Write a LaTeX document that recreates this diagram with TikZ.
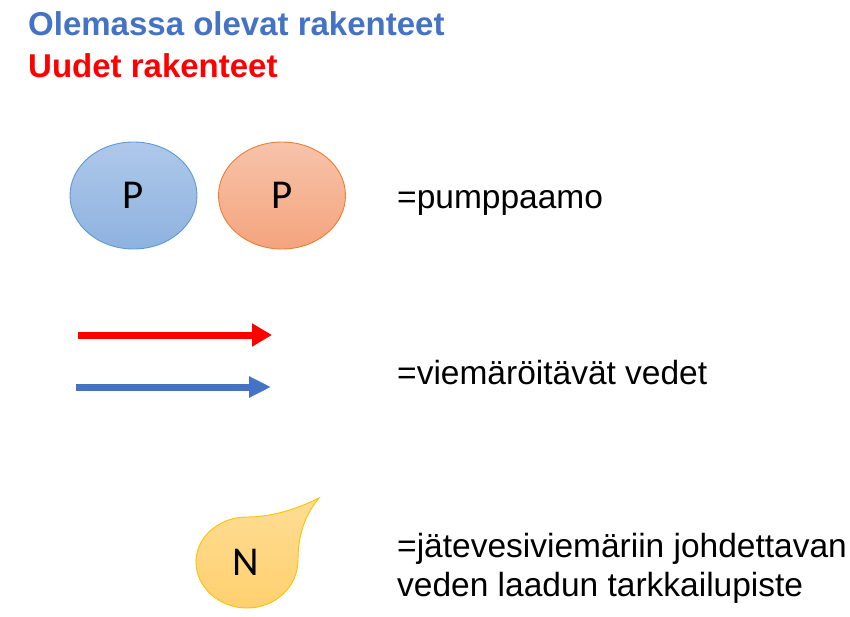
\documentclass[tikz,border=0pt]{standalone}
\usepackage{fontspec}
\setmainfont{Liberation Sans}
\newfontfamily\calib{Carlito}
\usetikzlibrary{shapes.geometric,arrows.meta}
\definecolor{oblue}{HTML}{4472C4}
\definecolor{nred}{HTML}{FF0000}
\definecolor{bluetop}{HTML}{AEC8EA}
\definecolor{bluebot}{HTML}{8EB2DF}
\definecolor{bluedraw}{HTML}{5B9BD5}
\definecolor{orgtop}{HTML}{F7C3AA}
\definecolor{orgbot}{HTML}{F4A47D}
\definecolor{orgdraw}{HTML}{ED7D31}
\definecolor{goldtop}{HTML}{FFDD95}
\definecolor{goldbot}{HTML}{FFD06E}
\definecolor{golddraw}{HTML}{FFC000}
\tikzset{
  title/.style={anchor=base west, inner sep=0pt, font=\fontsize{33}{40}\selectfont\bfseries},
  legtext/.style={anchor=base west, inner sep=0pt, align=left, font=\fontsize{33.5}{40}\selectfont},
  pump/.style={ellipse, minimum width=127pt, minimum height=107pt, inner sep=0pt, line width=0.9pt, font=\calib\fontsize{41}{48}\selectfont},
  flow/.style={line width=7pt},
}
\begin{document}
\begin{tikzpicture}[x=1pt,y=-1pt]
\useasboundingbox (0,0) rectangle (850,617);
\node[title, text=oblue] (t1) at (28,36) {Olemassa olevat rakenteet};
\node[title, text=nred] (t2) at (28,78) {Uudet rakenteet};
% pumps
\node[pump, draw=bluedraw, top color=bluetop, bottom color=bluebot] (pb) at (133.5,195.5) {P};
\node[pump, draw=orgdraw, top color=orgtop, bottom color=orgbot] (po) at (282,195.5) {P};
\node[legtext] (l1) at (397,209) {=pumppaamo};
% arrows
\coordinate (ra) at (78,335);
\coordinate (rb) at (272,335);
\coordinate (ba) at (76,387);
\coordinate (bb) at (271,387);
\draw[flow, draw=nred, -{Triangle[length=20pt,width=22pt]}] (ra) -- (rb);
\draw[flow, draw=oblue, -{Triangle[length=22pt,width=20pt]}] (ba) -- (bb);
\node[legtext] (l2) at (397,384) {=viemäröitävät vedet};
% drop
\path[draw=golddraw, line width=0.9pt, top color=goldtop, bottom color=goldbot]
  (319,498) .. controls (295,510) and (270,517) .. (247,517)
  .. controls (219,517) and (196,537) .. (196,562)
  .. controls (196,587) and (219,608) .. (247,608)
  .. controls (275,608) and (298,587) .. (298,560)
  .. controls (298,535) and (305,515) .. (319,498) -- cycle;
\node[inner sep=0pt, font=\calib\fontsize{41}{48}\selectfont] (n) at (246,562.5) {N};
\node[legtext, anchor=north west] (l3) at (397,533) {=jätevesiviemäriin johdettavan\\[-0.5pt]veden laadun tarkkailupiste};
\end{tikzpicture}
\end{document}
